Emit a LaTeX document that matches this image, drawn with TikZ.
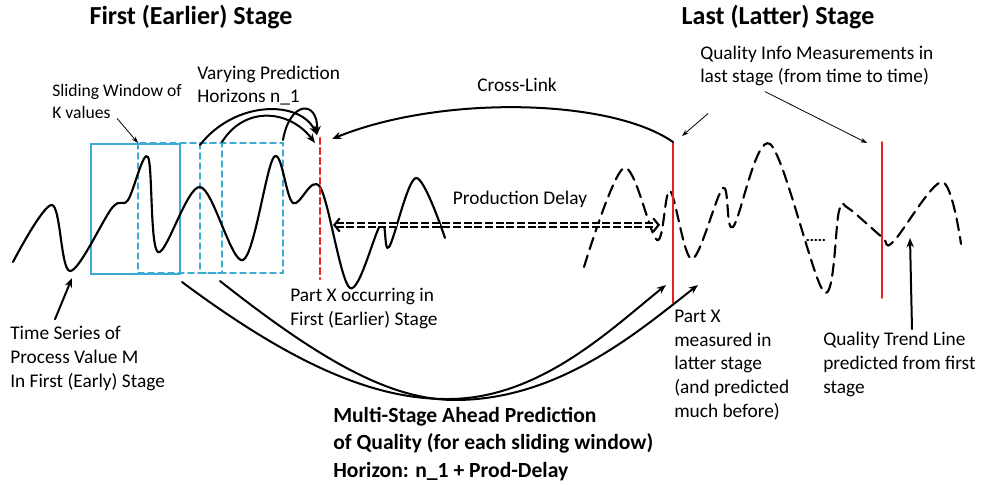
\documentclass[tikz,border=0pt]{standalone}
\usepackage{fontspec}
\setmainfont{Carlito}
\usetikzlibrary{arrows.meta,positioning,calc}
\definecolor{window}{RGB}{60,170,210}
\definecolor{partx}{RGB}{232,32,32}

\begin{document}
\begin{tikzpicture}[x=0.75pt, y=-0.75pt, >={Stealth[length=7pt,width=5.5pt]}, line cap=round,
  txt/.style={align=left, anchor=base west, inner sep=0pt, font=\fontsize{14.5}{17.7}\selectfont},
  stage/.style={anchor=base, inner sep=0pt, font=\fontsize{19.5}{23}\selectfont\bfseries},
  winbox/.style={draw=window, line width=1.1pt},
  series/.style={line width=1.6pt},
  pointer/.style={-{Stealth[length=5pt,width=3.5pt]}, line width=0.6pt},
  link/.style={->, line width=1.5pt}]
\useasboundingbox (0,0) rectangle (982,485);

% Titles and labels (base = last line)
\node[stage](first) at (191,25) {First (Earlier) Stage};
\node[stage](last) at (778,25) {Last (Latter) Stage};
\node[txt,font=\fontsize{13.2}{15.8}\selectfont](slide) at (52,118) {Sliding Window of\\K values};
\node[txt](vary) at (197,103) {Varying Prediction\\Horizons n\_1};
\node[txt,anchor=base](cross) at (517,92) {Cross-Link};
\node[txt,anchor=base](delay) at (520,204) {Production Delay};
\node[txt](qinfo) at (700,83) {Quality Info Measurements in\\last stage (from time to time)};
\node[txt](occur) at (290,325) {Part X occurring in\\First (Earlier) Stage};
\node[txt](tseries) at (10,387) {Time Series of\\Process Value M\\In First (Early) Stage};
\node[txt](measured) at (674,417) {Part X\\measured in\\latter stage\\(and predicted\\much before)};
\node[txt](trend) at (823,393) {Quality Trend Line\\predicted from first\\stage};
\node[txt,font=\fontsize{16.2}{20.6}\selectfont\bfseries](multi) at (333,477) {Multi-Stage Ahead Prediction\\of Quality (for each sliding window)\\Horizon: n\_1 + Prod-Delay};

% Points of interest
\coordinate (markA) at (320,138); \coordinate (markAend) at (320,279);
\coordinate (markB) at (673,142); \coordinate (markBend) at (673,303);
\coordinate (markC) at (882,142); \coordinate (markCend) at (882,298);
\coordinate (win2) at (138,143);
\coordinate (h1) at (200,145); \coordinate (h2) at (222,142); \coordinate (h3) at (283,140);
\coordinate (tipA) at (317,135); \coordinate (tipB) at (315,143); \coordinate (tipC) at (332,139);
\coordinate (pdL) at (333,225); \coordinate (pdR) at (660,225);
\coordinate (pr1) at (182,282); \coordinate (pr2) at (220,281);
\coordinate (tgt1) at (666,285); \coordinate (tgt2) at (698,285);
\coordinate (tsTip) at (72,278); \coordinate (trendTip) at (910,238);

% Sliding windows
\draw[winbox] (91,144) rectangle (180,274);
\draw[winbox,dash pattern=on 4.5pt off 3pt] (win2) rectangle (222,273);
\draw[winbox,dash pattern=on 4.5pt off 3pt] (200,143) rectangle (283,273);

% Process value in first stage
\draw[series] plot[smooth,tension=0.55] coordinates {(13,262) (52,205) (70,271) (112,208) (128,200) (148,157) (158,252) (200,187) (243,260) (274,157) (293,203) (320,187) (350,288) (381,224) (389,247) (416,178) (445,238)};

% Predicted quality in last stage
\draw[series,dash pattern=on 9pt off 5pt] plot[smooth,tension=0.55] coordinates {(584,267) (624,168) (657,240) (670,191) (692,259) (723,188) (733,227) (770,144) (824,292) (839,211) (848,208) (882,237) (893,242) (942,182) (961,244)};
\draw[dotted,line width=1pt] (807,240) -- (826,240);

% Part X marks
\draw[partx,line width=1.8pt,dash pattern=on 4.5pt off 3pt] (markA) -- (markAend);
\draw[partx,line width=1.4pt] (markB) -- (markBend);
\draw[partx,line width=1.4pt] (markC) -- (markCend);

% Arrows
\draw[pointer] (slide.south) -- (win2);
\draw[link] (h1) .. controls (235,100) and (300,100) .. (tipA);
\draw[link] (h2) .. controls (245,105) and (290,110) .. (tipB);
\draw[link] (h3) .. controls (290,100) and (318,100) .. (tipA);
\draw[link] (markB) .. controls (610,98) and (440,95) .. (tipC);
\draw[double,double distance=2pt,line width=0.9pt,dash pattern=on 6pt off 2pt,line cap=butt] ([xshift=2pt]pdL) -- ([xshift=-2pt]pdR);
\draw[{Straight Barb[length=4pt,width=10pt]}-{Straight Barb[length=4pt,width=10pt]},line width=1.6pt,dash pattern=on 0pt off 2000pt,line cap=butt] (pdL) -- (pdR);
\draw[pointer] ([shift={(8,27)}]qinfo.south west) -- ([shift={(9,-6)}]markB);
\draw[pointer] ([shift={(65,5)}]qinfo.south west) -- ([shift={(-15,1)}]markC);
\draw[link] ([shift={(45,-7)}]tseries.north west) -- (tsTip);
\draw[link] ([shift={(89,-3)}]trend.north west) -- (trendTip);
\draw[link] (pr1) .. controls (300,370) and (380,400) .. (450,399) .. controls (540,398) and (610,330) .. (tgt1);
\draw[link] (pr2) .. controls (320,360) and (390,400) .. (455,400) .. controls (560,400) and (640,330) .. (tgt2);
\end{tikzpicture}
\end{document}
